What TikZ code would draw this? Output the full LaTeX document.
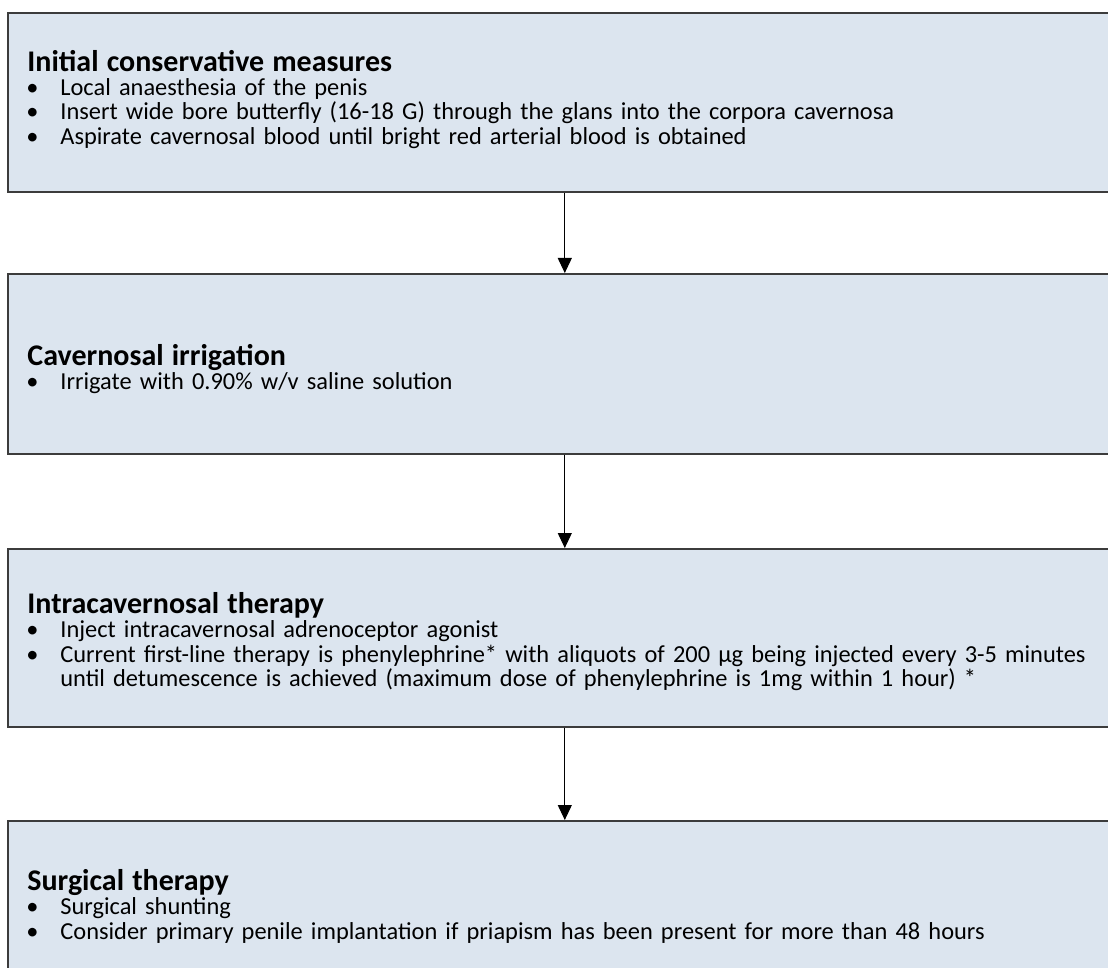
\documentclass[tikz,border=0pt]{standalone}
\usepackage{fontspec}
\setmainfont{Carlito}
\usepackage{tikz}
\usetikzlibrary{arrows.meta}
\usetikzlibrary{positioning}
\definecolor{stagefill}{RGB}{220,229,239}
\definecolor{stageline}{RGB}{60,60,60}
\tikzset{
	stage/.style={draw=stageline, line width=0.8pt, fill=stagefill, anchor=north west,
		minimum width=557pt, inner sep=0pt},
	stagetext/.style={anchor=north west, inner sep=0pt, text width=545pt, align=left,
		font=\fontsize{12.2}{12.2}\selectfont},
	flow/.style={draw=black, line width=0.5pt, -{Triangle[length=7.5pt,width=7pt]}},
}
\newcommand{\stagetitle}[1]{{\fontsize{15}{15}\selectfont\bfseries #1}\par}
\newcommand{\bulletline}[1]{\par\noindent\hbox to 16.5pt{\hspace{-0.5pt}\textbullet\hfil}%
	\parbox[t]{525pt}{#1}}

\begin{document}
\begin{tikzpicture}
	\useasboundingbox (0,0) rectangle (554pt,-484pt);
	% boxes
	\node[stage, minimum height=89.5pt] (measures) at (3.5pt,-6pt) {};
	\node[stage, minimum height=90pt] (irrigation) at (3.5pt,-136.5pt) {};
	\node[stage, minimum height=89pt] (therapy) at (3.5pt,-274pt) {};
	\node[stage, minimum height=90pt] (surgery) at (3.5pt,-410pt) {};
	% texts
	\node[stagetext] (measurestext) at ([xshift=10pt,yshift=-18.8pt]measures.north west) {%
		\stagetitle{Initial conservative measures}
		\bulletline{Local anaesthesia of the penis}
		\bulletline{Insert wide bore butterfly (16-18 G) through the glans into the corpora cavernosa}
		\bulletline{Aspirate cavernosal blood until bright red arterial blood is obtained}};
	\node[stagetext] (irrigationtext) at ([xshift=10pt,yshift=-35.5pt]irrigation.north west) {%
		\stagetitle{Cavernosal irrigation}
		\bulletline{Irrigate with 0.90\% w/v saline solution}};
	\node[stagetext] (therapytext) at ([xshift=10pt,yshift=-22pt]therapy.north west) {%
		\stagetitle{Intracavernosal therapy}
		\bulletline{Inject intracavernosal adrenoceptor agonist}
		\bulletline{Current first-line therapy is phenylephrine* with aliquots of 200 µg being injected every 3-5 minutes\\
			until detumescence is achieved (maximum dose of phenylephrine is 1mg within 1 hour) *}};
	\node[stagetext] (surgerytext) at ([xshift=10pt,yshift=-24.5pt]surgery.north west) {%
		\stagetitle{Surgical therapy}
		\bulletline{Surgical shunting}
		\bulletline{Consider primary penile implantation if priapism has been present for more than 48 hours}};
	% arrows
	\draw[flow] (measures.south) -- (irrigation.north);
	\draw[flow] (irrigation.south) -- (therapy.north);
	\draw[flow] (therapy.south) -- (surgery.north);
\end{tikzpicture}
\end{document}
